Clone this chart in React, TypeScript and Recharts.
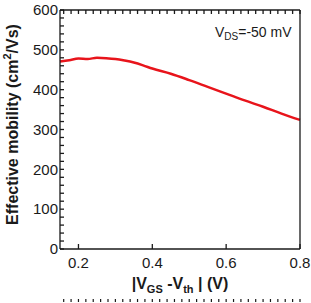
import React from 'react';
import { LineChart, Line, XAxis, YAxis } from 'recharts';

// |VGS - Vth| sweep (V) and measured effective mobility (cm^2/Vs)
const overdrive = [0.15, 0.175, 0.2, 0.225, 0.25, 0.275, 0.3, 0.325, 0.35, 0.375, 0.4, 0.45, 0.5, 0.55, 0.6, 0.65, 0.7, 0.75, 0.8];
const mobility = [471, 474, 478, 477, 480, 479, 477, 473, 468, 461, 453, 440, 424, 407, 390, 373, 357, 340, 324];

const xMajor = [0.2, 0.4, 0.6, 0.8];
const xTicks = [0.16, 0.18, 0.2, 0.22, 0.24, 0.26, 0.28, 0.3, 0.32, 0.34, 0.36, 0.38, 0.4, 0.42, 0.44, 0.46, 0.48, 0.5, 0.52, 0.54, 0.56, 0.58, 0.6, 0.62, 0.64, 0.66, 0.68, 0.7, 0.72, 0.74, 0.76, 0.78, 0.8];
const yTicks = [0, 20, 40, 60, 80, 100, 120, 140, 160, 180, 200, 220, 240, 260, 280, 300, 320, 340, 360, 380, 400, 420, 440, 460, 480, 500, 520, 540, 560, 580, 600];

const data = overdrive.map((v, i) => ({ v, mu: mobility[i] }));

const FONT = '"Liberation Sans", Arial, Helvetica, sans-serif';
const INK = '#1a1a1a';

const fmtX = (v: number) => Number(v).toFixed(1);
const fmtY = (v: number) => (Number(v) % 100 === 0 ? String(v) : '');
const blank = () => '';

const tickStyle = { fontSize: 15, fill: INK, fontFamily: FONT };

const YTitle = ({ viewBox }: any) => {
  const cx = viewBox.x + 18;
  const cy = viewBox.y + viewBox.height / 2 - 5;
  return (
    <text x={cx} y={cy} transform={`rotate(-90, ${cx}, ${cy})`} textAnchor="middle" fontSize={16} fontWeight="bold" fontFamily={FONT} fill={INK}>
      Effective mobility (cm<tspan fontSize={11} dy={-7}>2</tspan>
      <tspan dy={7}>/Vs)</tspan>
    </text>
  );
};

const XTitle = ({ viewBox }: any) => (
  <text x={viewBox.x + viewBox.width / 2} y={viewBox.y + 40} textAnchor="middle" fontSize={16} fontWeight="bold" fontFamily={FONT} fill={INK}>
    |V<tspan fontSize={11} dy={4}>GS</tspan>
    <tspan dy={-4}> -V</tspan>
    <tspan fontSize={11} dy={4}>th</tspan>
    <tspan dy={-4}> | (V)</tspan>
  </text>
);

const Note = ({ viewBox }: any) => (
  <text x={viewBox.x + viewBox.width - 85} y={viewBox.y + 28} fontSize={14} fontFamily={FONT} fill={INK}>
    V<tspan fontSize={10} dy={3}>DS</tspan>
    <tspan dy={-3}>=-50 mV</tspan>
  </text>
);

export default function App() {
  return (
    <div style={{ position: 'absolute', left: 0, top: 0, background: '#fff' }}>
      <LineChart width={311} height={303} data={data} margin={{ top: 9, right: 10, left: 0, bottom: 0 }}>
        {/* bare minor ticks along the bottom edge */}
        <XAxis
          xAxisId="minor"
          dataKey="v"
          type="number"
          domain={[0.15, 0.8]}
          ticks={xTicks}
          interval={0}
          height={1}
          tickSize={-3}
          tickMargin={0}
          tickFormatter={blank}
          axisLine={false}
          stroke={INK}
          strokeWidth={1.2}
        />
        {/* labelled major ticks */}
        <XAxis
          dataKey="v"
          type="number"
          domain={[0.15, 0.8]}
          ticks={xMajor}
          interval={0}
          height={53}
          tickSize={-5}
          tickMargin={13}
          tickFormatter={fmtX}
          tick={tickStyle}
          stroke={INK}
          strokeWidth={1.3}
          label={{ content: <XTitle /> }}
        />
        <XAxis
          xAxisId="top"
          orientation="top"
          dataKey="v"
          type="number"
          domain={[0.15, 0.8]}
          ticks={xTicks}
          interval={0}
          height={1}
          tickSize={-4}
          tickMargin={0}
          tickFormatter={blank}
          stroke={INK}
          strokeWidth={1.3}
          label={{ content: <Note /> }}
        />
        <YAxis
          type="number"
          domain={[0, 600]}
          ticks={yTicks}
          interval={0}
          width={60}
          tickSize={-4}
          tickMargin={6}
          tickFormatter={fmtY}
          tick={tickStyle}
          stroke={INK}
          strokeWidth={1.3}
          label={{ content: <YTitle /> }}
        />
        <YAxis
          yAxisId="right"
          orientation="right"
          type="number"
          domain={[0, 600]}
          ticks={yTicks}
          interval={0}
          width={1}
          tickSize={-4}
          tickMargin={0}
          tickFormatter={blank}
          stroke={INK}
          strokeWidth={1.3}
        />
        <Line
          dataKey="mu"
          type="monotone"
          stroke="#e8141b"
          strokeWidth={2.5}
          dot={false}
          isAnimationActive={false}
        />
      </LineChart>
    </div>
  );
}
